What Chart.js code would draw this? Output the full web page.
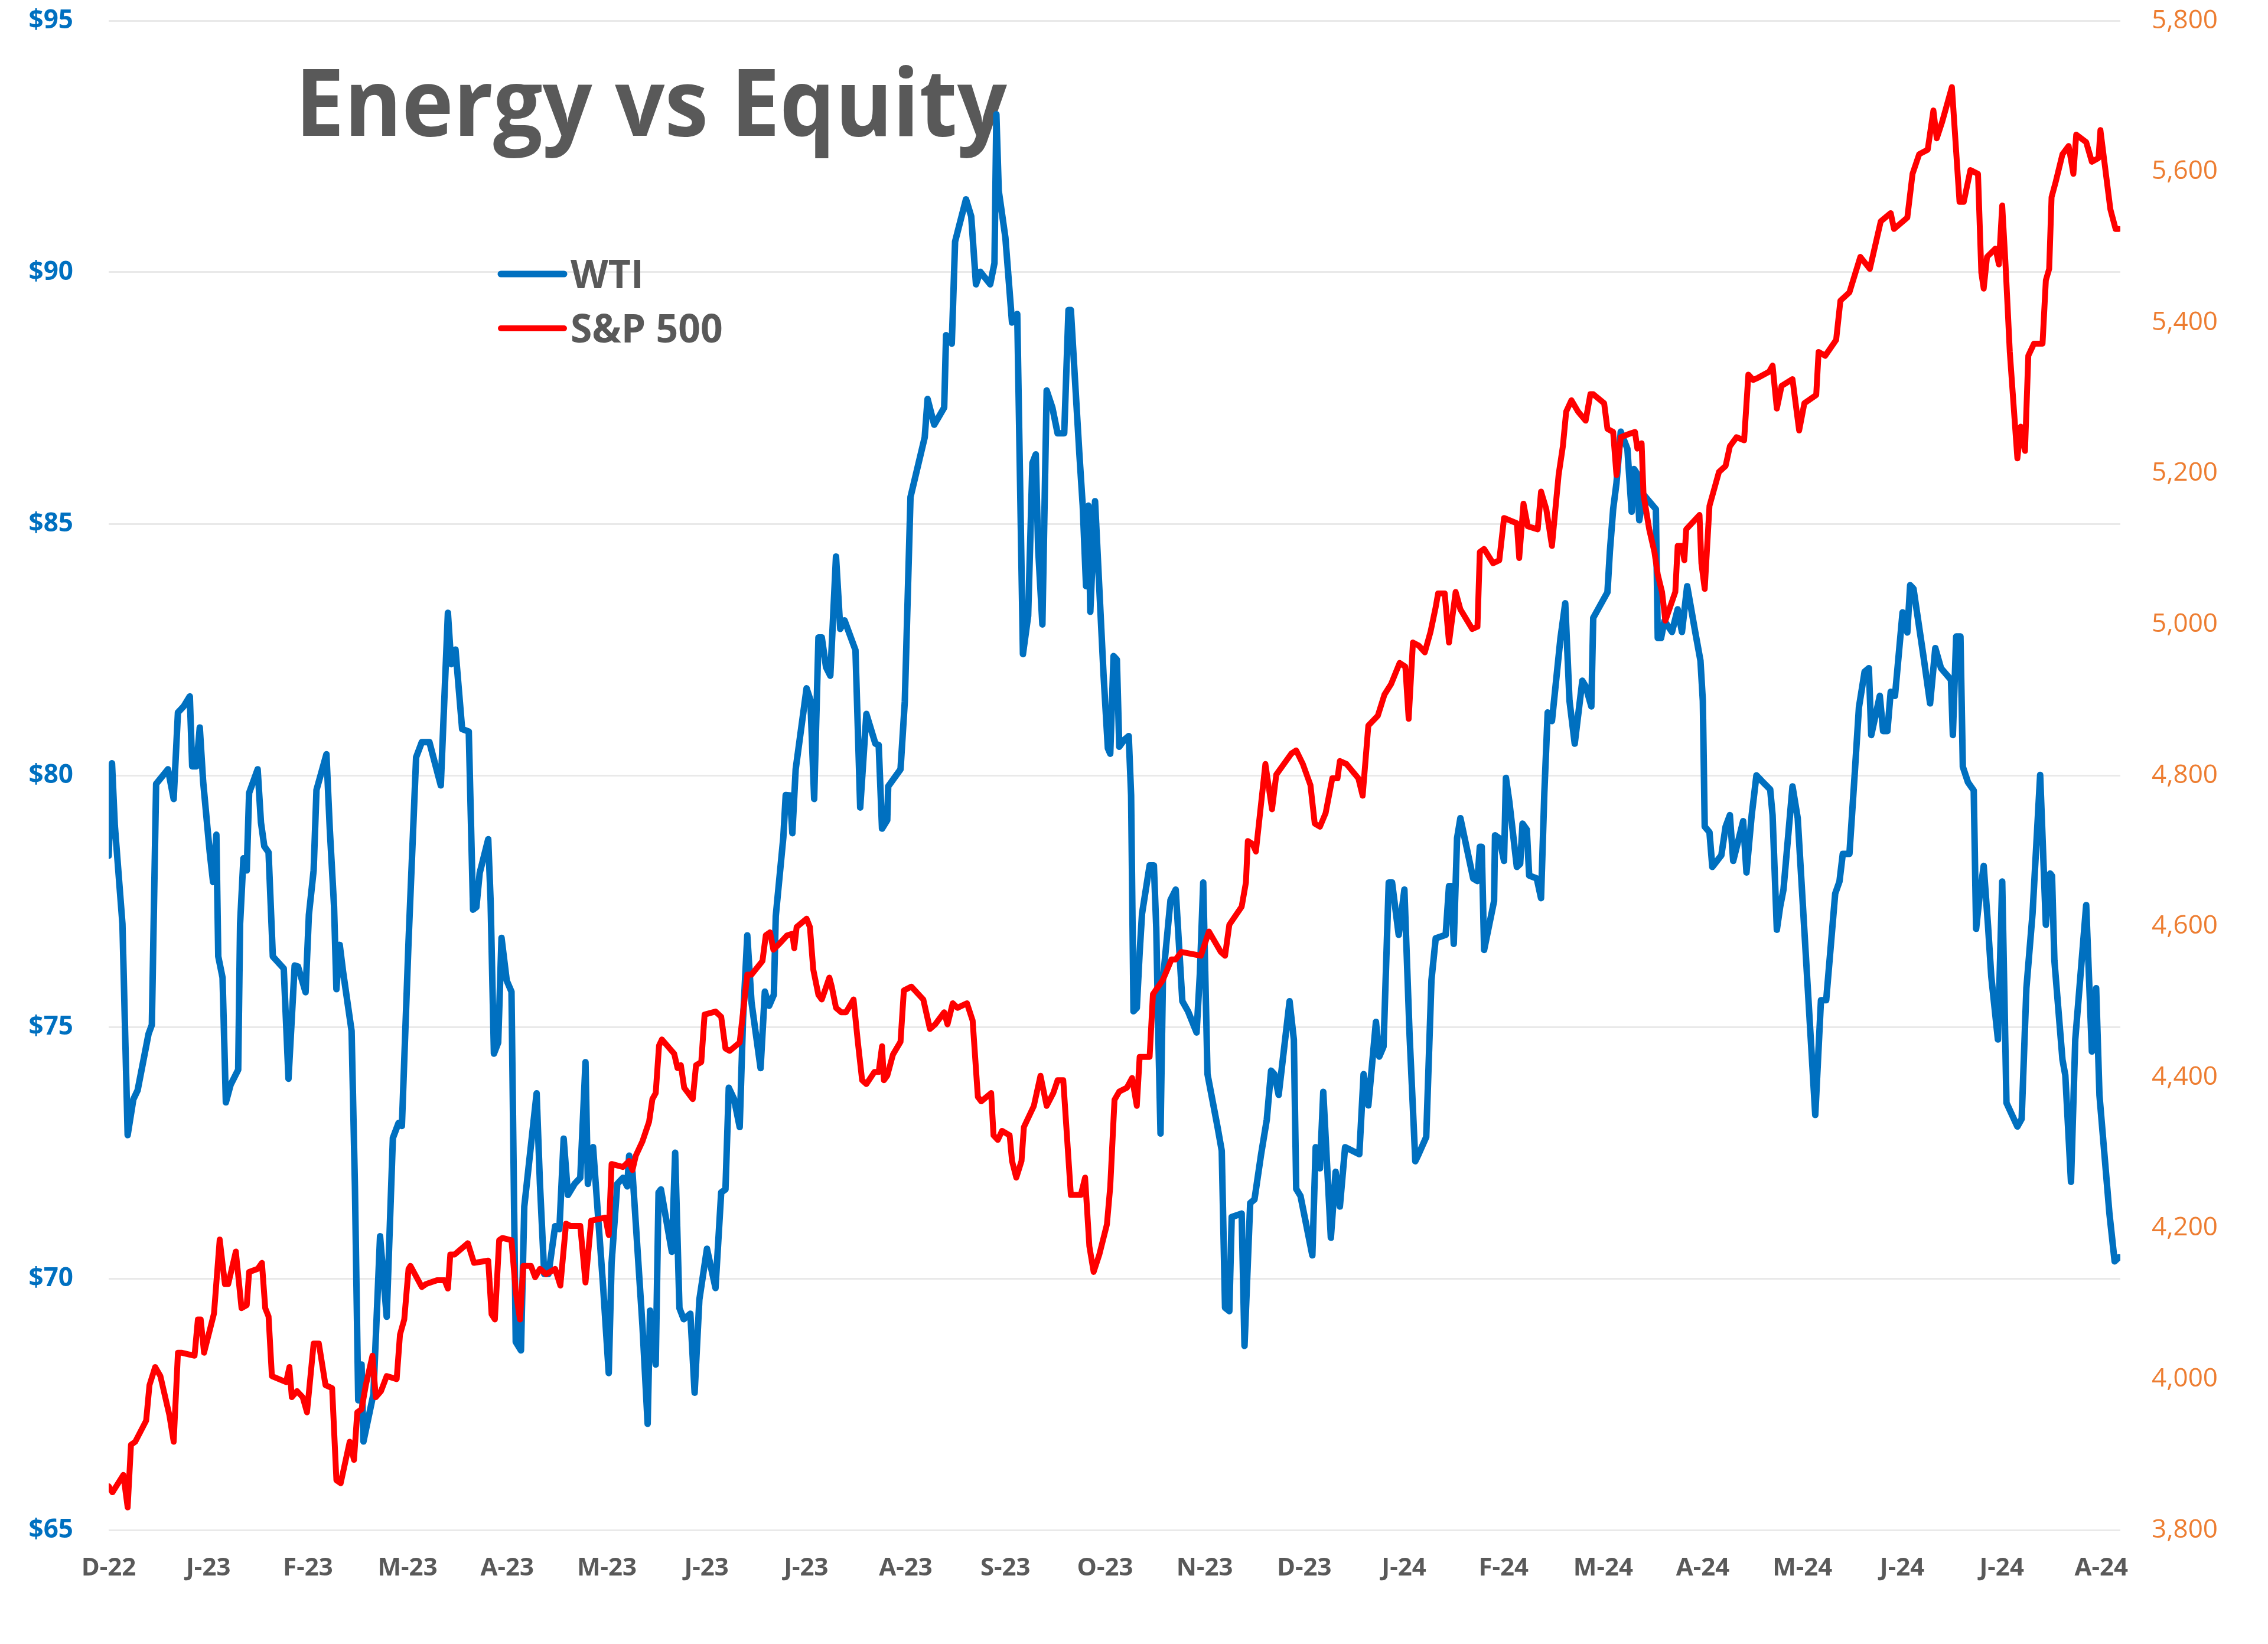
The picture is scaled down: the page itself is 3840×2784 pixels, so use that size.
<!DOCTYPE html>
<html>
<head>
<meta charset="utf-8">
<title>Energy vs Equity</title>
<script src="https://cdn.jsdelivr.net/npm/chart.js@4.4.1/dist/chart.umd.min.js"></script>
<style>
  html, body { margin: 0; padding: 0; background: #fff; }
  canvas { display: block; }
</style>
</head>
<body>
<canvas id="chart" width="3840" height="2784"></canvas>
<script>
// month labels, one every 21 trading days
const monthLabels = ['D-22', 'J-23', 'F-23', 'M-23', 'A-23', 'M-23', 'J-23', 'J-23', 'A-23', 'S-23', 'O-23',
  'N-23', 'D-23', 'J-24', 'F-24', 'M-24', 'A-24', 'M-24', 'J-24', 'J-24', 'A-24'];

// WTI crude, $ per barrel (trading day index, price)
const wtiDay = [
  0, 0.7, 1.3, 2.9, 4.0, 5.2, 6.1, 8.4, 9.1, 10.0,
  12.5, 13.7, 14.6, 15.8, 17.1, 17.6, 18.5, 19.2, 19.9, 21.3,
  22.0, 22.7, 23.1, 24.0, 24.7, 25.7, 27.3, 27.7, 28.4, 29.1,
  29.6, 31.4, 32.1, 32.8, 33.7, 34.6, 36.9, 37.9, 39.2, 39.9,
  41.5, 42.2, 43.2, 43.8, 45.9, 46.6, 47.5, 48.0, 48.7, 49.4,
  51.2, 51.9, 52.6, 53.3, 53.7, 55.8, 57.2, 58.6, 59.9, 61.1,
  61.8, 63.2, 64.8, 66.0, 67.6, 70.0, 71.5, 72.2, 73.1, 74.5,
  75.9, 76.8, 77.5, 78.2, 80.0, 80.5, 81.2, 82.1, 82.8, 83.9,
  84.9, 85.8, 86.9, 87.6, 90.2, 90.9, 91.8, 92.7, 94.1, 95.0,
  95.9, 96.8, 98.2, 99.4, 100.5, 101.0, 102.1, 104.2, 105.4, 106.0,
  107.2, 108.4, 109.3, 109.7, 110.4, 112.5, 113.6, 114.1, 115.3, 115.9,
  116.4, 118.7, 119.4, 120.3, 121.2, 122.6, 123.5, 124.5, 126.1, 127.9,
  129.1, 130.0, 130.7, 131.8, 133.0, 133.7, 134.6, 135.5, 137.4, 138.3,
  139.2, 140.2, 140.6, 142.2, 142.7, 143.6, 144.1, 144.8, 147.1, 147.9,
  148.7, 149.6, 150.3, 151.2, 152.1, 153.3, 154.2, 155.1, 157.4, 158.4,
  159.7, 161.6, 162.3, 163.0, 164.1, 164.3, 166.9, 167.8, 169.0, 172.0,
  172.6, 174.0, 176.1, 176.5, 177.7, 178.4, 179.3, 180.7, 181.8, 182.8,
  183.7, 185.8, 186.7, 187.1, 187.6, 189.0, 190.4, 191.5, 192.7, 193.8,
  194.7, 195.4, 195.9, 196.8, 197.7, 198.9, 200.0, 201.4, 202.3, 202.8,
  204.6, 205.3, 206.0, 206.5, 206.9, 207.9, 209.7, 210.6, 211.1, 211.8,
  212.5, 213.0, 214.1, 215.0, 215.5, 216.0, 216.7, 217.3, 217.8, 219.4,
  220.3, 220.8, 221.3, 221.7, 222.2, 223.8, 224.9, 226.3, 227.5, 229.3,
  230.0, 230.7, 231.6, 233.7, 234.6, 235.3, 236.2, 236.7, 238.8, 239.4,
  240.6, 241.5, 242.9, 244.1, 245.0, 245.7, 246.6, 248.9, 249.8, 250.3,
  251.2, 253.7, 254.4, 255.3, 256.0, 257.6, 258.6, 259.5, 260.6, 263.6,
  264.5, 265.5, 267.1, 267.8, 268.7, 269.8, 270.5, 271.9, 273.1, 274.2,
  275.4, 276.1, 277.7, 278.8, 279.7, 281.8, 282.5, 283.0, 283.5, 284.2,
  284.9, 287.6, 288.5, 289.0, 289.4, 289.9, 292.0, 292.2, 293.1, 294.1,
  294.5, 295.2, 296.8, 297.5, 298.0, 298.9, 299.4, 301.0, 301.9, 302.6,
  303.3, 304.2, 306.0, 307.0, 307.9, 309.0, 310.6, 311.3, 312.5, 312.9,
  315.9, 316.4, 317.1, 317.8, 318.7, 320.1, 321.0, 321.5, 322.1, 322.6,
  323.5, 326.1, 326.5, 327.2, 327.9, 329.5, 330.7, 331.6, 332.7, 334.4,
  335.5, 336.0, 336.4, 337.4, 338.0, 339.9, 340.8, 341.7, 342.4, 343.6,
  344.5, 345.2, 346.3, 347.3, 348.4, 350.2, 350.7, 351.6, 352.3, 353.0,
  354.9, 356.0, 359.7, 360.9, 362.0, 363.9, 364.8, 365.5, 366.9, 368.0,
  368.9, 370.1, 371.0, 371.5, 372.4, 373.3, 374.0, 374.9, 375.6, 376.5,
  378.1, 379.1, 379.7, 380.4, 382.5, 383.9, 385.0, 386.2, 388.3, 388.7,
  389.4, 390.3, 390.8, 391.9, 393.1, 393.6, 394.3, 395.2, 396.1, 396.8,
  398.2, 399.1, 400.0, 402.3, 403.2, 404.2, 405.5, 407.1, 408.3, 409.2,
  409.6, 410.1, 411.8, 412.4, 413.6, 414.5, 416.8, 418.0, 418.9, 419.6,
  421.7, 422.8, 423.7
];
const wtiPrice = [
  78.4, 80.24, 79.0, 77.05, 72.85, 73.56, 73.74, 74.86, 75.04, 79.83,
  80.12, 79.53, 81.25, 81.37, 81.57, 80.18, 80.18, 80.95, 79.89, 78.47,
  77.88, 78.82, 76.4, 75.98, 73.5, 73.85, 74.15, 77.05, 78.35, 78.11,
  79.65, 80.12, 79.06, 78.59, 78.47, 76.4, 76.16, 73.97, 76.22, 76.2,
  75.69, 77.23, 78.11, 79.71, 80.42, 78.94, 77.4, 75.75, 76.63, 76.1,
  74.92, 71.84, 67.58, 68.29, 66.76, 67.7, 70.84, 69.24, 72.79, 73.09,
  73.03, 76.69, 80.36, 80.66, 80.66, 79.8, 83.23, 82.21, 82.5, 80.92,
  80.87, 77.33, 77.38, 78.06, 78.73, 77.5, 74.47, 74.69, 76.77, 75.92,
  75.7, 68.74, 68.57, 71.43, 73.68, 71.88, 70.09, 70.09, 71.04, 70.98,
  72.78, 71.66, 71.88, 72.0, 74.3, 71.88, 72.61, 69.86, 68.12, 70.31,
  71.88, 72.0, 71.83, 72.44, 72.11, 69.07, 67.11, 69.36, 68.29, 71.71,
  71.77, 70.53, 72.5, 69.41, 69.19, 69.3, 67.73, 69.58, 70.59, 69.81,
  71.71, 71.77, 73.79, 73.57, 73.01, 75.14, 76.82, 75.48, 74.18, 75.7,
  75.42, 75.64, 77.2, 78.77, 79.61, 79.6, 78.85, 80.12, 81.73, 81.5,
  79.53, 82.74, 82.74, 82.15, 81.98, 84.35, 82.91, 83.08, 82.49, 79.36,
  81.22, 80.63, 80.6, 78.94, 79.11, 79.78, 80.12, 81.47, 85.53, 86.72,
  87.48, 86.97, 87.31, 88.75, 88.58, 90.61, 90.94, 91.45, 91.11, 89.76,
  90.01, 89.76, 90.18, 93.14, 91.62, 90.69, 89.0, 89.17, 82.41, 83.17,
  86.21, 86.38, 84.52, 83.0, 87.65, 87.31, 86.8, 86.8, 89.25, 89.25,
  86.38, 85.36, 83.76, 85.36, 83.25, 85.45, 81.98, 80.54, 80.43, 82.37,
  82.3, 80.57, 80.71, 80.78, 79.6, 75.31, 75.38, 76.48, 77.25, 78.21,
  78.21, 76.97, 74.55, 72.88, 75.93, 77.52, 77.73, 75.51, 75.31, 74.89,
  76.07, 77.87, 74.06, 73.02, 72.54, 69.42, 69.35, 71.22, 71.29, 68.66,
  71.5, 71.57, 72.47, 73.16, 74.13, 74.06, 73.65, 75.51, 74.75, 71.78,
  71.64, 70.46, 72.61, 72.19, 73.71, 70.81, 72.12, 71.43, 72.61, 72.47,
  74.06, 73.44, 75.1, 74.41, 74.61, 77.87, 77.87, 76.83, 77.73, 74.82,
  72.33, 72.47, 72.81, 75.93, 76.76, 76.83, 77.8, 77.8, 76.65, 78.75,
  79.15, 77.95, 77.9, 78.58, 78.58, 76.53, 77.5, 78.81, 78.75, 78.3,
  79.95, 79.49, 78.18, 78.24, 79.04, 78.92, 78.01, 77.95, 77.56, 79.66,
  81.25, 81.08, 82.73, 83.42, 81.48, 80.63, 81.88, 81.77, 81.37, 83.13,
  83.64, 84.44, 85.29, 85.81, 86.83, 86.49, 85.24, 86.09, 86.0, 85.07,
  85.58, 85.29, 82.73, 82.73, 83.07, 82.85, 83.3, 82.85, 83.76, 82.85,
  82.28, 81.48, 78.98, 78.87, 78.18, 78.41, 78.98, 79.21, 78.3, 78.75,
  79.09, 78.07, 79.21, 80.0, 79.89, 79.72, 79.21, 76.93, 77.39, 77.73,
  79.78, 79.15, 73.25, 75.53, 75.53, 77.65, 77.89, 78.44, 78.44, 80.01,
  81.35, 82.06, 82.13, 80.8, 81.19, 81.58, 80.88, 80.88, 81.66, 81.58,
  83.24, 82.84, 83.78, 83.71, 82.37, 81.43, 82.53, 82.13, 81.9, 80.8,
  82.76, 82.76, 80.17, 79.86, 79.7, 76.95, 77.57, 78.2, 77.03, 76.0,
  74.75, 77.89, 73.49, 73.02, 73.17, 75.77, 77.26, 80.01, 77.03, 78.05,
  78.0, 76.32, 74.35, 74.04, 71.92, 74.75, 77.42, 74.51, 75.77, 73.64,
  71.29, 70.34, 70.42
];

// S&P 500 index level (trading day index, level)
const spxDay = [
  0, 0.8, 3.1, 4.0, 4.7, 5.6, 7.9, 8.6, 9.8, 10.9,
  12.8, 13.7, 14.6, 15.3, 18.1, 18.8, 19.4, 20.1, 22.2, 23.4,
  24.5, 25.2, 26.8, 28.0, 29.1, 29.6, 31.4, 32.3, 33.0, 33.7,
  34.4, 37.4, 38.1, 38.6, 39.7, 40.9, 41.8, 43.2, 44.3, 45.7,
  47.1, 48.0, 48.9, 50.8, 51.7, 52.4, 53.3, 54.2, 55.6, 56.3,
  57.4, 58.6, 60.7, 61.4, 62.3, 63.2, 63.6, 66.0, 66.9, 69.2,
  70.8, 71.5, 72.0, 72.9, 75.7, 77.0, 80.0, 80.7, 81.4, 82.3,
  83.0, 84.9, 85.8, 86.7, 87.4, 89.0, 89.9, 90.9, 92.2, 94.1,
  95.2, 96.4, 97.3, 99.4, 100.5, 101.7, 104.7, 105.4, 106.0, 108.4,
  109.7, 110.4, 111.1, 112.5, 113.9, 114.6, 115.3, 116.0, 116.6, 119.2,
  119.9, 120.6, 121.3, 123.1, 123.8, 124.9, 125.6, 127.9, 129.1, 130.0,
  130.9, 133.0, 134.6, 135.5, 137.8, 138.5, 139.4, 140.1, 141.4, 143.0,
  144.1, 144.5, 145.0, 147.1, 147.8, 148.5, 149.6, 150.3, 151.9, 152.4,
  153.3, 154.4, 155.4, 157.0, 157.9, 158.8, 159.7, 161.4, 162.3, 163.0,
  163.4, 164.1, 165.3, 166.9, 167.6, 169.2, 171.7, 173.1, 174.2, 176.1,
  176.8, 177.9, 178.9, 180.9, 182.1, 183.2, 183.9, 186.0, 186.5, 187.4,
  188.3, 189.9, 190.4, 191.3, 192.4, 192.9, 195.0, 196.4, 197.7, 199.1,
  200.0, 201.2, 202.8, 204.9, 205.8, 206.7, 207.6, 208.8, 210.4, 211.1,
  212.0, 213.0, 214.6, 215.7, 216.7, 217.3, 219.4, 220.1, 222.2, 224.0,
  224.9, 226.1, 230.2, 231.9, 234.4, 235.3, 236.2, 238.8, 239.7, 240.1,
  241.1, 241.8, 243.8, 245.2, 246.1, 249.3, 250.3, 251.7, 253.3, 254.2,
  255.3, 256.5, 257.9, 259.0, 259.5, 260.9, 263.4, 264.3, 265.5, 267.5,
  268.9, 270.3, 272.1, 273.3, 274.0, 274.9, 276.1, 277.4, 278.6, 279.7,
  280.2, 281.6, 282.5, 283.9, 284.9, 287.4, 288.5, 289.0, 289.9, 291.8,
  293.1, 294.1, 296.8, 297.3, 298.2, 299.1, 301.2, 301.9, 303.0, 304.2,
  305.6, 306.5, 307.2, 308.3, 309.7, 311.3, 312.3, 312.9, 315.2, 315.9,
  317.1, 317.8, 318.7, 320.3, 321.7, 322.2, 323.1, 323.5, 324.7, 325.8,
  326.5, 327.4, 328.1, 330.2, 330.7, 331.6, 332.1, 332.5, 335.3, 335.7,
  336.4, 337.4, 339.4, 340.8, 341.7, 343.1, 344.7, 345.6, 346.6, 347.7,
  350.0, 350.7, 351.6, 352.6, 354.9, 356.3, 357.4, 359.9, 360.4, 361.8,
  364.1, 365.0, 366.9, 369.2, 371.2, 373.5, 375.6, 376.3, 379.1, 380.2,
  381.6, 383.4, 384.6, 385.3, 386.4, 388.5, 390.1, 391.0, 392.4, 394.0,
  394.7, 395.2, 395.9, 397.7, 398.4, 399.1, 399.8, 400.7, 402.3, 403.0,
  403.9, 404.6, 405.8, 407.6, 408.3, 409.0, 409.5, 410.4, 411.8, 413.1,
  414.1, 414.7, 416.8, 418.0, 419.4, 419.8, 421.9, 423.0, 423.7
];
const spxLevel = [
  3858, 3850, 3873, 3830, 3913, 3917, 3945, 3992, 4016, 4004,
  3952, 3917, 4035, 4035, 4031, 4079, 4079, 4035, 4087, 4185,
  4126, 4126, 4169, 4094, 4098, 4142, 4146, 4154, 4094, 4083,
  4004, 3996, 4016, 3976, 3984, 3976, 3956, 4047, 4047, 3992,
  3988, 3866, 3862, 3917, 3893, 3956, 3960, 3992, 4031, 3976,
  3984, 4004, 4000, 4059, 4079, 4146, 4150, 4122, 4126, 4131,
  4131, 4120, 4165, 4165, 4180, 4154, 4157, 4086, 4079, 4184,
  4187, 4184, 4116, 4079, 4150, 4150, 4135, 4146, 4139, 4146,
  4124, 4206, 4203, 4203, 4128, 4210, 4214, 4191, 4285, 4281,
  4289, 4277, 4296, 4315, 4341, 4371, 4379, 4442, 4450, 4431,
  4412, 4416, 4386, 4371, 4416, 4420, 4483, 4487, 4480, 4438,
  4435, 4446, 4536, 4536, 4554, 4588, 4592, 4569, 4577, 4588,
  4590, 4571, 4599, 4610, 4599, 4543, 4509, 4503, 4532, 4520,
  4492, 4486, 4486, 4503, 4447, 4396, 4391, 4407, 4407, 4441,
  4396, 4402, 4430, 4447, 4515, 4520, 4503, 4464, 4470, 4486,
  4470, 4498, 4492, 4498, 4475, 4374, 4368, 4379, 4323, 4317,
  4329, 4323, 4289, 4267, 4289, 4334, 4362, 4402, 4362, 4379,
  4396, 4396, 4244, 4244, 4267, 4176, 4142, 4165, 4205, 4255,
  4370, 4381, 4386, 4399, 4362, 4427, 4427, 4510, 4529, 4556,
  4556, 4566, 4561, 4593, 4566, 4561, 4602, 4626, 4658, 4713,
  4709, 4699, 4815, 4755, 4801, 4829, 4833, 4815, 4787, 4736,
  4732, 4750, 4796, 4796, 4819, 4815, 4796, 4773, 4866, 4879,
  4907, 4921, 4949, 4944, 4875, 4976, 4972, 4963, 4990, 5023,
  5041, 5041, 4976, 5043, 5020, 4994, 4997, 5096, 5100, 5081,
  5085, 5141, 5134, 5088, 5160, 5130, 5126, 5176, 5153, 5104,
  5198, 5236, 5282, 5297, 5282, 5270, 5305, 5305, 5293, 5259,
  5255, 5198, 5248, 5252, 5255, 5233, 5240, 5172, 5126, 5096,
  5066, 5043, 5005, 5043, 5104, 5104, 5085, 5126, 5145, 5081,
  5047, 5157, 5202, 5210, 5236, 5248, 5244, 5331, 5324, 5327,
  5335, 5343, 5286, 5316, 5325, 5257, 5293, 5304, 5361, 5356,
  5377, 5429, 5440, 5487, 5471, 5534, 5545, 5524, 5539, 5597,
  5623, 5629, 5681, 5644, 5665, 5712, 5560, 5560, 5602, 5597,
  5466, 5445, 5487, 5498, 5477, 5555, 5477, 5361, 5220, 5262,
  5230, 5356, 5372, 5372, 5456, 5471, 5566, 5587, 5623, 5634,
  5597, 5649, 5639, 5613, 5618, 5655, 5550, 5524, 5524
];

const DAYS_PER_LABEL = 21;
const LAST_DAY = 424;

Chart.defaults.font.family = '"Open Sans", "Noto Sans", sans-serif';

// big title and the little legend sit inside the plot area
const overlay = {
  id: 'overlay',
  beforeDatasetsDraw(chart) {
    const ctx = chart.ctx;
    const text = 'Energy vs Equity';
    ctx.save();
    ctx.font = 'bold 158px "Open Sans"';
    ctx.fillStyle = '#595959';
    ctx.textBaseline = 'alphabetic';
    const w = ctx.measureText(text).width;
    ctx.translate(500, 230);
    ctx.scale(1205 / w, 1);
    ctx.fillText(text, 0, 0);
    ctx.restore();
  },
  afterDatasetsDraw(chart) {
    const ctx = chart.ctx;
    const rows = [464, 556];
    ctx.save();
    ctx.font = 'bold 66px "Open Sans"';
    ctx.textBaseline = 'alphabetic';
    chart.data.datasets.forEach((ds, k) => {
      const y = rows[k];
      ctx.strokeStyle = ds.borderColor;
      ctx.lineWidth = ds.borderWidth;
      ctx.lineCap = 'round';
      ctx.beginPath();
      ctx.moveTo(848, y);
      ctx.lineTo(955, y);
      ctx.stroke();
      ctx.fillStyle = '#595959';
      ctx.fillText(ds.label, 966, y + 24);
    });
    ctx.restore();
  }
};

new Chart(document.getElementById('chart'), {
  type: 'line',
  data: {
    datasets: [
      {
        label: 'WTI',
        data: wtiDay.map((d, k) => ({ x: d, y: wtiPrice[k] })),
        yAxisID: 'y',
        borderColor: '#0070C0',
        borderWidth: 11,
        order: 1
      },
      {
        label: 'S&P 500',
        data: spxDay.map((d, k) => ({ x: d, y: spxLevel[k] })),
        yAxisID: 'y1',
        borderColor: '#FF0000',
        borderWidth: 10,
        order: 0
      }
    ]
  },
  options: {
    responsive: false,
    animation: false,
    devicePixelRatio: 1,
    layout: { padding: { top: 35, left: 0, right: 0, bottom: 0 } },
    elements: {
      point: { radius: 0 },
      line: { tension: 0, borderJoinStyle: 'round', borderCapStyle: 'round' }
    },
    plugins: {
      legend: { display: false },
      tooltip: { enabled: false }
    },
    scales: {
      x: {
        type: 'linear',
        min: 0,
        max: LAST_DAY,
        grid: { display: false, drawTicks: false },
        border: { display: false },
        afterBuildTicks: (s) => {
          s.ticks = monthLabels.map((_, k) => ({ value: k * DAYS_PER_LABEL }));
        },
        ticks: {
          autoSkip: false,
          maxRotation: 0,
          padding: 40,
          color: '#595959',
          font: { size: 42, weight: 'bold' },
          callback: (v) => monthLabels[Math.round(v / DAYS_PER_LABEL)]
        },
        afterFit: (s) => { s.height = 193; s.paddingLeft = 0; s.paddingRight = 0; }
      },
      y: {
        position: 'left',
        min: 65,
        max: 95,
        grid: { color: '#E9E9E9', lineWidth: 3, drawTicks: false },
        border: { display: false },
        ticks: {
          stepSize: 5,
          padding: 60,
          color: '#0070C0',
          font: { size: 44, weight: 'bold' },
          callback: (v) => '$' + v
        },
        afterFit: (s) => { s.width = 184; s.paddingTop = 0; s.paddingBottom = 0; }
      },
      y1: {
        position: 'right',
        min: 3800,
        max: 5800,
        grid: { drawOnChartArea: false, drawTicks: false },
        border: { display: false },
        ticks: {
          stepSize: 200,
          padding: 53,
          color: '#ED7D31',
          font: { size: 44 },
          callback: (v) => v.toLocaleString('en-US')
        },
        afterFit: (s) => { s.width = 250; s.paddingTop = 0; s.paddingBottom = 0; }
      }
    }
  },
  plugins: [overlay]
});
</script>
</body>
</html>
